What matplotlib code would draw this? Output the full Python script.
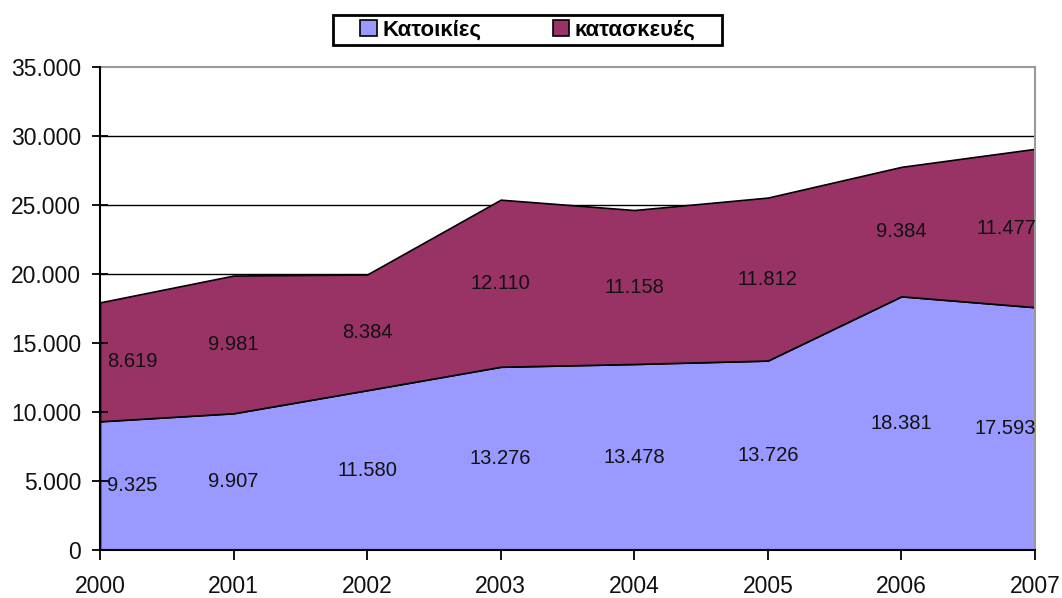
import matplotlib
matplotlib.use("Agg")
import matplotlib.pyplot as plt
from matplotlib.ticker import FuncFormatter, MultipleLocator
from matplotlib.patches import Patch, Rectangle

years = [2000, 2001, 2002, 2003, 2004, 2005, 2006, 2007]
katoikies = [9325, 9907, 11580, 13276, 13478, 13726, 18381, 17593]
kataskeves = [8619, 9981, 8384, 12110, 11158, 11812, 9384, 11477]
series_names = ["Κατοικίες", "κατασκευές"]
colors = ["#9999FF", "#993366"]

plt.rcParams['font.family'] = ['Liberation Sans', 'DejaVu Sans']

W, H = 1062, 598
fig = plt.figure(figsize=(W / 100, H / 100), dpi=100)
ax = fig.add_axes([100/W, 1-550/H, 935/W, 483/H])

# gridlines behind areas
for v in range(5000, 35000, 5000):
    ax.axhline(v, color="black", lw=1.0, zorder=0.5)

ax.stackplot(years, katoikies, kataskeves, colors=colors,
             edgecolor="black", linewidth=1.2, zorder=1)

ax.set_xlim(2000, 2007)
ax.set_ylim(0, 35000)
ax.yaxis.set_major_locator(MultipleLocator(5000))
ax.set_xticks(years)

def fmt(v, pos=None):
    return f"{int(v):,}".replace(",", ".")

ax.yaxis.set_major_formatter(FuncFormatter(fmt))

for s in ["top", "right"]:
    ax.spines[s].set_color("#999999")
    ax.spines[s].set_linewidth(1.5)
for s in ["left", "bottom"]:
    ax.spines[s].set_color("black")
    ax.spines[s].set_linewidth(1.5)
ax.spines["left"].set_zorder(3)
ax.spines["bottom"].set_zorder(3)

ax.tick_params(axis="y", direction="inout", length=11, width=1.3, labelsize=16.5,
               pad=8, labelcolor="#111111")
ax.tick_params(axis="x", direction="out", length=7, width=1.3, labelsize=16.5,
               pad=11, labelcolor="#111111")

# data labels
for i, y in enumerate(years):
    a = katoikies[i]
    b = kataskeves[i]
    if i == 0:
        ha, x = "left", y + 0.05
    elif i == len(years) - 1:
        ha, x = "right", y + 0.01
    else:
        ha, x = "center", y
    ax.text(x, a / 2, fmt(a), ha=ha, va="center", fontsize=14.5, color="#111111", zorder=4)
    ax.text(x, a + b / 2, fmt(b), ha=ha, va="center", fontsize=14.5, color="#111111", zorder=4)

handles = [Patch(facecolor=c, edgecolor="black", linewidth=1.2) for c in colors]
leg = fig.legend(handles, series_names, loc="center", bbox_to_anchor=(528/W, 1-30/H),
                 ncol=2, frameon=False,
                 prop={"weight": "bold", "size": 16}, handlelength=0.75, handleheight=0.75,
                 handletextpad=0.25, columnspacing=3.2, borderpad=0.2, borderaxespad=0)
fig.patches.append(Rectangle((333/W, 1-45/H), 389/W, 30/H, transform=fig.transFigure,
                             facecolor="white", edgecolor="black", linewidth=2, zorder=0))

fig.savefig("out.png", dpi=100)
